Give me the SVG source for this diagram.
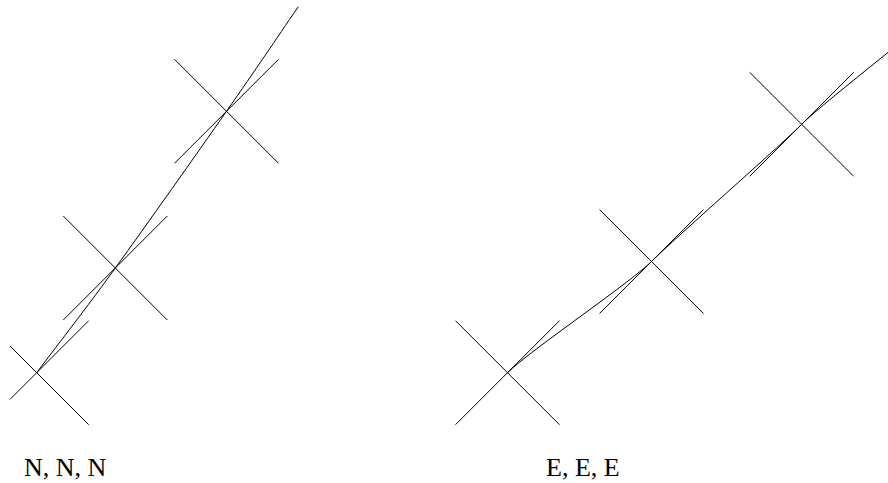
<svg xmlns="http://www.w3.org/2000/svg" width="888" height="483" viewBox="0 0 888 483">
<style>
line, path { stroke: #000; stroke-width: 1; fill: none; }
text { font-family: "Liberation Serif", "Times New Roman", serif; font-size: 26px; fill: #000; }
</style>
<rect width="888" height="483" fill="#fff"/>
<g id="left-x1"><line x1="10" y1="346" x2="88.7" y2="424.7"/><line x1="10" y1="399.4" x2="88.7" y2="320.7"/></g>
<g id="left-x2"><line x1="63.3" y1="216" x2="167.3" y2="320"/><line x1="63.3" y1="320" x2="167.3" y2="216"/></g>
<g id="left-x3"><line x1="174.5" y1="59.3" x2="278.5" y2="163.3"/><line x1="174.5" y1="163.3" x2="278.5" y2="59.3"/></g>
<g id="right-x1"><line x1="455.5" y1="320.7" x2="559.5" y2="424.7"/><line x1="455.5" y1="424.7" x2="559.5" y2="320.7"/></g>
<g id="right-x2"><line x1="599.5" y1="209.5" x2="703.5" y2="313.5"/><line x1="599.5" y1="313.5" x2="703.5" y2="209.5"/></g>
<g id="right-x3"><line x1="749.7" y1="72.3" x2="853.7" y2="176.3"/><line x1="749.7" y1="176.3" x2="853.7" y2="72.3"/></g>
<g id="connectors">
<path d="M36.7,372.7 C62.9,337.8 83.7,311.6 115.3,268 C146.9,224.4 196,154.85 226.5,111.3 C257,67.75 274.4,41.6 298.3,6.7"/>
<path d="M507.5,372.7 C529,351.2 630,283 651.5,261.5 C675.5,237.5 777.7,148.3 801.7,124.3 C826,100 936,16.3 960,-8"/>
</g>
<text x="24" y="476">N, N, N</text>
<text x="546" y="476">E, E, E</text>
</svg>
